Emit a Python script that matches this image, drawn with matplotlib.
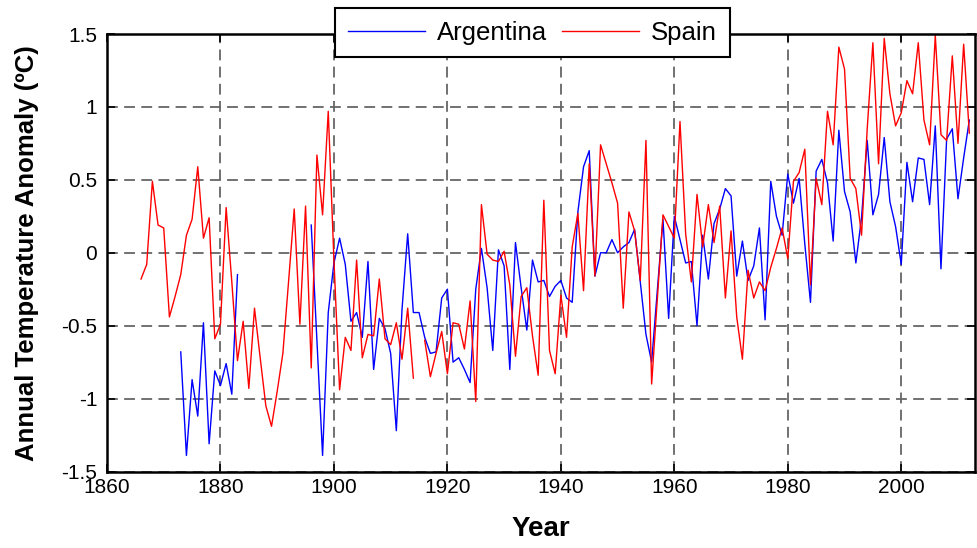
import numpy as np
import matplotlib
matplotlib.use('Agg')
import matplotlib.pyplot as plt
from matplotlib.ticker import FormatStrFormatter

plt.rcParams['font.family'] = ['Liberation Sans', 'DejaVu Sans']

nan = np.nan

# Spain, 1866-2012 (1915 missing)
spain_years = np.arange(1866, 2013)
spain = [
    -0.18, -0.08, 0.49, 0.19,                                        # 1866-1869
    0.17, -0.44, -0.30, -0.15, 0.12, 0.23, 0.59, 0.10, 0.24, -0.59,  # 1870s
    -0.49, 0.31, -0.20, -0.74, -0.47, -0.93, -0.38, -0.72, -1.05, -1.19,  # 1880s
    -0.95, -0.69, -0.20, 0.30, -0.49, 0.32, -0.79, 0.67, 0.26, 0.97,  # 1890s
    -0.05, -0.94, -0.58, -0.67, -0.05, -0.72, -0.56, -0.57, -0.18, -0.59,  # 1900s
    -0.63, -0.48, -0.73, -0.38, -0.86, nan, -0.60, -0.85, -0.69, -0.54,  # 1910s
    -0.83, -0.48, -0.49, -0.66, -0.33, -1.02, 0.33, -0.01, -0.05, -0.06,  # 1920s
    0.01, -0.22, -0.71, -0.30, -0.24, -0.57, -0.84, 0.36, -0.67, -0.83,  # 1930s
    -0.29, -0.58, 0.04, 0.27, -0.26, 0.61, -0.16, 0.74, 0.61, 0.48,  # 1940s
    0.34, -0.38, 0.28, 0.15, -0.19, 0.77, -0.90, -0.32, 0.26, 0.18,  # 1950s
    0.10, 0.90, 0.13, -0.20, 0.40, 0.04, 0.33, 0.07, 0.32, -0.31,  # 1960s
    0.15, -0.44, -0.73, -0.12, -0.31, -0.20, -0.26, -0.10, 0.03, 0.17,  # 1970s
    -0.04, 0.49, 0.55, 0.71, -0.22, 0.51, 0.33, 0.97, 0.74, 1.41,  # 1980s
    1.26, 0.51, 0.44, 0.12, 0.85, 1.44, 0.61, 1.47, 1.09, 0.87,  # 1990s
    0.96, 1.18, 1.09, 1.44, 0.91, 0.74, 1.49, 0.81, 0.77, 1.35,  # 2000s
    0.75, 1.43, 0.82,                                                # 2010-2012
]

# Argentina, 1873-2012 (1884-1895 missing)
arg_years = np.arange(1873, 2013)
argentina = [
    -0.68, -1.39, -0.87, -1.12, -0.48, -1.31, -0.81,                 # 1873-1879
    -0.91, -0.76, -0.97, -0.15, nan, nan, nan, nan, nan, nan,        # 1880s
    nan, nan, nan, nan, nan, nan, 0.19, -0.60, -1.39, -0.41,         # 1890s
    -0.07, 0.10, -0.08, -0.47, -0.41, -0.58, -0.06, -0.80, -0.45, -0.52,  # 1900s
    -0.69, -1.22, -0.39, 0.13, -0.41, -0.41, -0.58, -0.69, -0.68, -0.31,  # 1910s
    -0.25, -0.75, -0.72, -0.80, -0.89, -0.25, 0.03, -0.24, -0.67, 0.02,  # 1920s
    -0.09, -0.80, 0.07, -0.24, -0.53, -0.05, -0.20, -0.19, -0.30, -0.23,  # 1930s
    -0.19, -0.31, -0.34, 0.28, 0.59, 0.70, -0.16, 0.00, 0.00, 0.09,  # 1940s
    0.00, 0.04, 0.07, 0.16, -0.20, -0.56, -0.75, -0.26, 0.23, -0.45,  # 1950s
    0.25, 0.09, -0.07, -0.06, -0.50, 0.12, -0.18, 0.20, 0.30, 0.44,  # 1960s
    0.39, -0.16, 0.08, -0.19, -0.09, 0.17, -0.46, 0.49, 0.25, 0.12,  # 1970s
    0.54, 0.34, 0.51, 0.06, -0.34, 0.56, 0.64, 0.48, 0.08, 0.84,     # 1980s
    0.42, 0.28, -0.07, 0.24, 0.77, 0.26, 0.40, 0.79, 0.35, 0.18,     # 1990s
    -0.08, 0.62, 0.35, 0.65, 0.64, 0.33, 0.87, -0.11, 0.78, 0.85,    # 2000s
    0.37, 0.65, 0.91,                                                # 2010-2012
]

x_ticks = [1860, 1880, 1900, 1920, 1940, 1960, 1980, 2000]
y_ticks = [-1.5, -1, -0.5, 0, 0.5, 1, 1.5]

fig = plt.figure(figsize=(9.78, 5.48), dpi=100)
ax = fig.add_axes([107 / 978, 76.5 / 548, 868 / 978, 437.5 / 548])

ax.plot(arg_years, argentina, color='#0000ff', lw=1.0, label='Argentina')
ax.plot(spain_years, spain, color='#ff0000', lw=1.0, label='Spain')

ax.set_xlim(1860, 2013)
ax.set_ylim(-1.5, 1.5)
ax.set_xticks(x_ticks)
ax.set_yticks(y_ticks)
ax.yaxis.set_major_formatter(FormatStrFormatter('%g'))

ax.grid(True, color='#666666', linestyle=(0, (6, 3.5)), linewidth=1.3)
ax.set_axisbelow(True)
ax.tick_params(direction='in', length=6, width=1.2, top=True, right=True,
               labelsize=15)
ax.tick_params(axis='y', pad=7)
ax.tick_params(axis='x', pad=5)
for s in ax.spines.values():
    s.set_linewidth(1.8)

ax.set_xlabel('Year', fontsize=20, fontweight='bold', labelpad=13)
ax.set_ylabel('Annual Temperature Anomaly (ºC)', fontsize=18.5,
              fontweight='bold', labelpad=16)

leg = ax.legend(loc='upper center', bbox_to_anchor=(0.49, 1.06), ncol=2,
                fontsize=18.5, fancybox=False, framealpha=1, edgecolor='black',
                handlelength=3.0, columnspacing=0.6, handletextpad=0.45,
                borderpad=0.5, borderaxespad=0)
leg.get_frame().set_linewidth(1.5)

fig.savefig('out.png', dpi=100)
